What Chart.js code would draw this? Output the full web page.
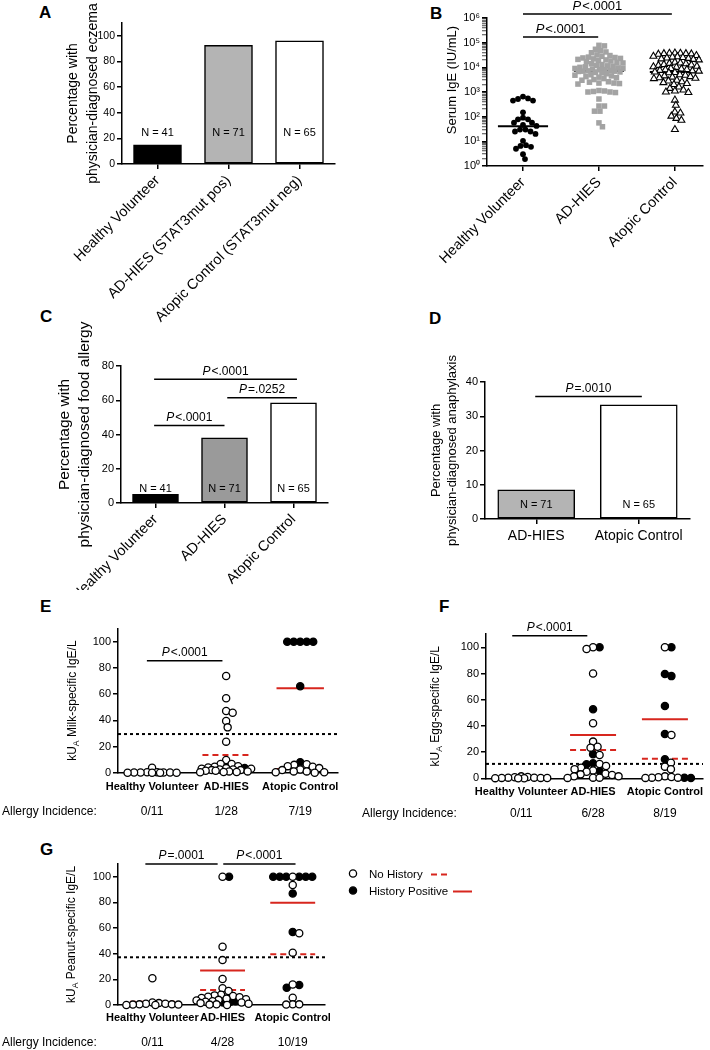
<!DOCTYPE html>
<html>
<head>
<meta charset="utf-8">
<script src="https://cdn.jsdelivr.net/npm/chart.js@4.4.1/dist/chart.umd.min.js"></script>
<style>
  html, body { margin: 0; padding: 0; background: #fff; }
  body { position: relative; width: 710px; height: 1050px; overflow: hidden; font-family: 'Liberation Sans', Arial, sans-serif; }
  canvas { position: absolute; }
  .panel-letter { position: absolute; font-weight: bold; font-size: 17px; line-height: 17px; color: #000; }
</style>
</head>
<body>
<div class="panel-letter" style="left:39px;top:4px">A</div>
<div class="panel-letter" style="left:430px;top:5px">B</div>
<div class="panel-letter" style="left:40px;top:308px">C</div>
<div class="panel-letter" style="left:429px;top:310px">D</div>
<div class="panel-letter" style="left:40px;top:598px">E</div>
<div class="panel-letter" style="left:439px;top:598px">F</div>
<div class="panel-letter" style="left:40px;top:841px">G</div>

<canvas id="chartA"></canvas>
<canvas id="chartB"></canvas>
<canvas id="chartC"></canvas>
<canvas id="chartD"></canvas>
<canvas id="chartE"></canvas>
<canvas id="chartF"></canvas>
<canvas id="chartG"></canvas>

<script>
// 글꼴 / 색상
const FONT = "'Liberation Sans', Arial, Helvetica, sans-serif";
const RED = '#d7261e';

// ---------- 데이터 ----------
// 그룹 이름
const groupsA = ['Healthy Volunteer', 'AD-HIES (STAT3mut pos)', 'Atopic Control (STAT3mut neg)'];
const groups3 = ['Healthy Volunteer', 'AD-HIES', 'Atopic Control'];
const groupsD = ['AD-HIES', 'Atopic Control'];

// A: 습진 비율
const eczemaPct = [15, 92.5, 96];
const nA = ['N = 41', 'N = 71', 'N = 65'];
const yTicksA = [0, 20, 40, 60, 80, 100];
const titleA = ['Percentage with', 'physician-diagnosed eczema'];

// B: 혈청 IgE
const igeHV = [550, 450, 450, 520, 650, 150, 78, 57, 46, 42, 57, 78, 91, 30, 25, 20, 25, 30, 7, 6, 5, 6.5, 10.5, 3, 1.9];
const igeAD = [74000, 78000, 47000, 39000, 54000, 42000,
  32000, 30000, 28000, 26000, 25000, 24000, 23000, 22000, 21000, 20000, 19000, 18000,
  17000, 16000, 15000, 14000, 13000, 12000, 11500, 11000, 10500, 10000,
  9500, 9000, 9000, 8500, 8000, 8000, 7500, 7200, 7000, 7000, 6800, 6500, 6200, 6000, 5500,
  5000, 4800, 4500, 4200, 4000, 3800, 3500, 3200, 3000,
  2600, 2500, 2300, 2300, 2200, 2100,
  1150, 1100, 1050, 1000, 1000, 950,
  520, 270, 270, 167, 167, 56, 39];
const igeAC = [38000, 37000, 37000, 36000, 36000, 35000, 34000,
  30000, 28000, 27000, 26000, 25000, 24000, 23000, 22000, 21000, 20000,
  16000, 15000, 14500, 14000, 13000, 12500, 12000, 11000, 10500, 10000,
  9000, 8500, 8200, 8000, 7500, 7200, 7000, 6500, 6200, 6000,
  5000, 4800, 4500, 4200, 4000, 3800, 3600, 3500,
  3000, 2800, 2600, 2400, 2200, 2000,
  1600, 1400, 1200, 1100, 1000, 950,
  470, 290, 155, 140, 105, 85, 72, 30];
const igeMeans = [41, 7200, 6500];
const yTicksB = [1, 10, 100, 1e3, 1e4, 1e5, 1e6];
const yTickLabelsB = ['10⁰', '10¹', '10²', '10³', '10⁴', '10⁵', '10⁶'];
const sigB = [
  { x1: 1, x2: 2.96, y: 1.45e6, label: '<.0001' },
  { x1: 1, x2: 1.99, y: 1.7e5, label: '<.0001' }
];

// C: 식품 알레르기 비율
const foodPct = [5, 38, 58.5];
const nC = ['N = 41', 'N = 71', 'N = 65'];
const yTicksC = [0, 20, 40, 60, 80];
const titleC = ['Percentage with', 'physician-diagnosed food allergy'];
const sigC = [
  { x1: 0.98, x2: 3.05, y: 72.2, label: '<.0001' },
  { x1: 2.04, x2: 3.05, y: 61.5, label: '=.0252' },
  { x1: 0.98, x2: 2.0, y: 45.2, label: '<.0001' }
];

// D: 아나필락시스 비율
const anaPct = [8.5, 33.3];
const nD = ['N = 71', 'N = 65'];
const yTicksD = [0, 10, 20, 30, 40];
const titleD = ['Percentage with', 'physician-diagnosed anaphylaxis'];
const sigD = [{ x1: 0.99, x2: 2.03, y: 35.8, label: '=.0010' }];

// E/F/G 공통
const yTicksPct = [0, 20, 40, 60, 80, 100];
const legendLabels = ['No History', 'History Positive'];

// E: 우유 특이 IgE
const milkNoHistHV = [3.8, 0.3, 0.2, 0.1, 0, 0, 0, 0, 0.1, 0.2, 0.3];
const milkNoHistAD = [73.8, 56.8, 47.1, 45.8, 39.5, 34.6, 23.7, 9.7, 6.6, 6.6, 5, 4.5, 4, 3.5, 3, 3, 2.5, 2.5, 2, 2, 1.5, 1.5, 1, 1, 0.5, 0.5, 0.3];
const milkNoHistAC = [6.5, 6, 5, 4.5, 3.5, 2.5, 2, 1, 1, 0.3, 0.3, 0];
const milkPosHV = [];
const milkPosAD = [3.5];
const milkPosAC = [100, 100, 100, 100, 100, 66, 8];
const milkNoHistMean = [0.8, 13.5, 2.8];
const milkPosMean = [null, 3.6, 64.4];
const milkCutoff = 29.5;
const milkIncidence = ['0/11', '1/28', '7/19'];
const sigE = [{ x1: 0.93, x2: 1.95, y: 85.5, label: '<.0001' }];

// F: 계란 특이 IgE
const eggNoHistHV = [1.5, 1, 0.8, 0.5, 0.5, 0.3, 0.3, 0.2, 0.1, 0, 0];
const eggNoHistAD = [100, 98.7, 80, 42, 28, 24.1, 23.4, 17.8, 10.9, 9.4, 8, 7, 6, 5, 3.5, 3, 2.5, 1.5, 1.5, 0.5, 0.5, 0.3];
const eggNoHistAC = [100, 33, 11.9, 8.9, 6.9, 1.5, 1, 0.8, 0.5, 0.5, 0.3];
const eggPosHV = [];
const eggPosAD = [100, 52.7, 18.3, 11.5, 10.7, 5.5];
const eggPosAC = [100, 79.6, 78, 55.2, 33.8, 14.5, 0.5, 0.3];
const eggNoHistMean = [0.5, 21.6, 15];
const eggPosMean = [null, 33, 45];
const eggCutoff = 11;
const eggIncidence = ['0/11', '6/28', '8/19'];
const sigF = [{ x1: 0.875, x2: 1.92, y: 108.8, label: '<.0001' }];

// G: 땅콩 특이 IgE
const peanutNoHistHV = [20.8, 2, 1.5, 1, 1, 0.5, 0.5, 0.3, 0.3, 0, 0];
const peanutNoHistAD = [100, 45.5, 35, 20.3, 13, 10.9, 8, 7.5, 7, 6.5, 6, 5.5, 5, 4.5, 4, 3.5, 3, 2.5, 2, 1.5, 1, 0.5, 0.3, 0];
const peanutNoHistAC = [100, 93.5, 55.9, 40.8, 16, 5.7, 0.5, 0.5, 0.3];
const peanutPosHV = [];
const peanutPosAD = [100, 3, 2.5, 2];
const peanutPosAC = [100, 100, 100, 100, 100, 100, 87, 57, 15.6, 13.5];
const peanutNoHistMean = [2.6, 11.7, 39.5];
const peanutPosMean = [null, 26.8, 79.7];
const peanutCutoff = 37.2;
const peanutIncidence = ['0/11', '4/28', '10/19'];
const sigG = [
  { x1: 0.9, x2: 1.93, y: 110, label: '=.0001' },
  { x1: 2.01, x2: 3.04, y: 110, label: '<.0001' }
];

Chart.defaults.font.family = FONT;
Chart.defaults.color = '#000';

// ---------- 헬퍼 ----------
function setupCanvas(id, r) {
  const c = document.getElementById(id);
  c.width = r.w;
  c.height = r.h;
  c.style.left = r.x + 'px';
  c.style.top = r.y + 'px';
  c.style.width = r.w + 'px';
  c.style.height = r.h + 'px';
  return c;
}

// 플롯 영역이 페이지 좌표에 맞도록 패딩 계산
function frame(rect, plot, scaleLeft) {
  return {
    padding: { left: scaleLeft - rect.x, top: plot.t - rect.y, right: rect.x + rect.w - plot.r, bottom: 0 },
    yw: plot.l - scaleLeft,
    xh: rect.y + rect.h - plot.b
  };
}

function yScale(f, o) {
  return {
    type: o.type || 'linear',
    min: o.min,
    max: o.max,
    afterFit: s => { s.width = f.yw; s.paddingTop = 0; s.paddingBottom = 0; },
    afterBuildTicks: o.buildTicks || (s => { s.ticks = o.ticks.map(v => ({ value: v })); }),
    border: { display: true, color: '#000', width: 1.5 },
    grid: Object.assign({ drawOnChartArea: false, drawTicks: true, tickLength: 5, color: '#000', lineWidth: 1.5 }, o.grid || {}),
    ticks: {
      autoSkip: false, color: '#000', padding: 2,
      font: { family: FONT, size: o.tickSize || 11 },
      callback: o.tickCallback || (v => v)
    },
    title: o.title ? {
      display: true, text: o.title, color: '#000',
      font: { family: FONT, size: o.titleSize, lineHeight: o.titleLH },
      padding: { top: o.titlePad, bottom: 0 }
    } : { display: false }
  };
}

function xScale(f, o) {
  const marks = o.tickMarks !== false;
  return {
    type: 'linear',
    min: o.min,
    max: o.max,
    offset: false,
    afterFit: s => { s.height = f.xh; s.paddingLeft = 0; s.paddingRight = 0; },
    afterBuildTicks: s => { s.ticks = o.labels.map((_, i) => ({ value: i + 1 })); },
    border: { display: true, color: '#000', width: 1.5 },
    grid: { display: marks, offset: false, drawOnChartArea: false, drawTicks: marks, tickLength: 5, color: '#000', lineWidth: 1.5 },
    ticks: {
      autoSkip: false, color: '#000',
      minRotation: o.rot || 0, maxRotation: o.rot || 0,
      padding: o.pad == null ? 3 : o.pad,
      font: { family: FONT, size: o.size, weight: o.weight || 'normal' },
      callback: (v, i) => o.labels[i]
    }
  };
}

function baseOptions(f, scales) {
  return {
    responsive: false,
    animation: false,
    events: [],
    layout: { padding: f.padding },
    plugins: { legend: { display: false }, tooltip: { enabled: false } },
    scales
  };
}

function sigLines(sig) {
  return (sig || []).map(s => ({
    type: 'line', showLine: true,
    data: [{ x: s.x1, y: s.y }, { x: s.x2, y: s.y }],
    borderColor: '#000', borderWidth: 1.5, pointRadius: 0, clip: false, fill: false
  }));
}

function meanLine(g, m, color, dash, hw) {
  return {
    type: 'line', showLine: true,
    data: [{ x: g + 1 - hw, y: m }, { x: g + 1 + hw, y: m }],
    borderColor: color, borderWidth: 2, borderDash: dash, pointRadius: 0, clip: false, fill: false
  };
}

// 이탤릭 P + 나머지 텍스트
function drawP(ctx, x, y, rest, size) {
  ctx.save();
  ctx.fillStyle = '#000';
  ctx.textBaseline = 'middle';
  ctx.textAlign = 'left';
  ctx.font = `italic ${size}px ${FONT}`;
  const wP = ctx.measureText('P').width + 1;
  ctx.font = `${size}px ${FONT}`;
  const wR = ctx.measureText(rest).width;
  const x0 = x - (wP + wR) / 2;
  ctx.font = `italic ${size}px ${FONT}`;
  ctx.fillText('P', x0, y);
  ctx.font = `${size}px ${FONT}`;
  ctx.fillText(rest, x0 + wP, y);
  ctx.restore();
}

// 아래첨자가 있는 세로 제목
function drawRotated(ctx, cx, cy, parts, size) {
  ctx.save();
  ctx.translate(cx, cy);
  ctx.rotate(-Math.PI / 2);
  ctx.fillStyle = '#000';
  ctx.textBaseline = 'middle';
  ctx.textAlign = 'left';
  const fontFor = p => `${p.sub ? size * 0.72 : size}px ${FONT}`;
  let total = 0;
  parts.forEach(p => { ctx.font = fontFor(p); total += ctx.measureText(p.t).width; });
  let x = -total / 2;
  parts.forEach(p => {
    ctx.font = fontFor(p);
    ctx.fillText(p.t, x, p.sub ? size * 0.32 : 0);
    x += ctx.measureText(p.t).width;
  });
  ctx.restore();
}

function annotations(c) {
  return {
    id: 'annotations',
    afterDatasetsDraw(chart) {
      const ctx = chart.ctx, xs = chart.scales.x, ys = chart.scales.y;
      (c.sig || []).forEach(s => {
        const px = (xs.getPixelForValue(s.x1) + xs.getPixelForValue(s.x2)) / 2;
        drawP(ctx, px, ys.getPixelForValue(s.y) - 8, s.label, c.pSize || 12);
      });
      ctx.save();
      ctx.fillStyle = '#000';
      ctx.textBaseline = 'middle';
      if (c.nLabels) {
        ctx.font = `${c.nSize || 11}px ${FONT}`;
        ctx.textAlign = 'center';
        c.nLabels.forEach((t, i) => ctx.fillText(t, xs.getPixelForValue(i + 1), ys.getPixelForValue(c.nY)));
      }
      if (c.richTitle) {
        const ty = c.richTitle.y != null ? c.richTitle.y : (chart.chartArea.top + chart.chartArea.bottom) / 2;
        drawRotated(ctx, c.richTitle.x, ty, c.richTitle.parts, c.richTitle.size);
      }
      if (c.incidence) {
        ctx.font = `12px ${FONT}`;
        ctx.textAlign = 'left';
        ctx.fillText('Allergy Incidence:', c.incidence.x, c.incidence.y);
        ctx.textAlign = 'center';
        c.incidence.values.forEach((t, i) => ctx.fillText(t, xs.getPixelForValue(i + 1), c.incidence.y));
      }
      if (c.legend) c.legend(ctx);
      ctx.restore();
    }
  };
}

// 겹치지 않도록 점 배치 (비스웜)
function swarm(chart, groups, diam, maxW) {
  const xs = chart.scales.x, ys = chart.scales.y;
  const unit = xs.getPixelForValue(2) - xs.getPixelForValue(1);
  const out = [];
  groups.forEach((pts, g) => {
    const placed = [];
    const order = pts.map((p, i) => i).sort((a, b) => pts[b].v - pts[a].v);
    order.forEach(i => {
      const py = ys.getPixelForValue(pts[i].v);
      let best = 0, bestD = -1, found = false;
      for (let s = 0; s <= maxW && !found; s += 0.5) {
        const cands = s === 0 ? [0] : [s, -s];
        for (const dx of cands) {
          let dmin = Infinity;
          placed.forEach(q => { dmin = Math.min(dmin, Math.hypot(q.dx - dx, q.py - py)); });
          if (dmin >= diam) { best = dx; found = true; break; }
          if (dmin > bestD) { bestD = dmin; best = dx; }
        }
      }
      placed.push({ dx: best, py });
      out.push({ set: pts[i].set, x: g + 1 + best / unit, y: pts[i].v });
    });
  });
  return out;
}

// ---------- 막대 패널 ----------
function barPanel(id, rect, plot, scaleLeft, c) {
  const f = frame(rect, plot, scaleLeft);
  const datasets = [{
    type: 'bar',
    data: c.values.map((v, i) => ({ x: i + 1, y: v })),
    backgroundColor: c.colors,
    borderColor: '#000',
    borderWidth: 1.5,
    borderSkipped: false,
    barThickness: c.barW,
    clip: false
  }].concat(sigLines(c.sig));
  return new Chart(setupCanvas(id, rect), {
    type: 'bar',
    data: { datasets },
    options: baseOptions(f, {
      x: xScale(f, { min: 0.5, max: c.xMax || 3.5, labels: c.labels, rot: c.xRot, size: c.xSize, pad: c.xPad }),
      y: yScale(f, { min: 0, max: c.yMax, ticks: c.yTicks, tickSize: c.tickSize, title: c.title, titleSize: c.titleSize, titleLH: c.titleLH, titlePad: c.titlePad })
    }),
    plugins: [annotations({ sig: c.sig, nLabels: c.nLabels, nY: c.nY, pSize: 12 })]
  });
}

// ---------- 점 패널 ----------
function dotPanel(id, rect, plot, scaleLeft, c) {
  const f = frame(rect, plot, scaleLeft);
  const pointSets = c.sets.map(ps => ({
    type: 'scatter', data: [],
    pointStyle: ps.style, pointRadius: ps.r,
    pointBackgroundColor: ps.fill, pointBorderColor: ps.stroke, pointBorderWidth: ps.bw,
    clip: false
  }));
  const means = [];
  (c.means || []).forEach(m => m.values.forEach((v, g) => { if (v != null) means.push(meanLine(g, v, m.color, m.dash, c.hw)); }));
  const cutoff = c.threshold == null ? [] : [{
    type: 'line', showLine: true,
    data: [{ x: c.xMin, y: c.threshold }, { x: c.xMax, y: c.threshold }],
    borderColor: '#000', borderWidth: 2, borderDash: [3, 3], pointRadius: 0, clip: false
  }];
  const chart = new Chart(setupCanvas(id, rect), {
    type: 'scatter',
    data: { datasets: pointSets.concat(means, cutoff, sigLines(c.sig)) },
    options: baseOptions(f, {
      x: xScale(f, { min: c.xMin, max: c.xMax, labels: c.labels, rot: c.xRot, size: c.xSize, weight: c.xWeight, tickMarks: c.xTickMarks, pad: c.xPad }),
      y: yScale(f, {
        type: c.yType, min: c.yMin, max: c.yMax, ticks: c.yTicks, buildTicks: c.yBuildTicks,
        tickCallback: c.yTickCallback, grid: c.yGrid, tickSize: 11
      })
    }),
    plugins: [annotations({ sig: c.sig, pSize: c.pSize, richTitle: c.richTitle, incidence: c.incidence, legend: c.legend })]
  });
  swarm(chart, c.groups, c.diam, c.maxW).forEach(p => chart.data.datasets[p.set].data.push({ x: p.x, y: p.y }));
  chart.update('none');
  return chart;
}

const OPEN_FILLED = [
  { style: 'circle', r: 3.6, fill: '#fff', stroke: '#000', bw: 1.3 },
  { style: 'circle', r: 3.6, fill: '#000', stroke: '#000', bw: 1.3 }
];

function historyGroups(noHist, pos) {
  return noHist.map((arr, g) => arr.map(v => ({ v, set: 0 })).concat(pos[g].map(v => ({ v, set: 1 }))));
}

// ---------- 패널 생성 ----------
barPanel('chartA', { x: 0, y: 0, w: 350, h: 340 }, { l: 122, r: 335, t: 23, b: 164 }, 55, {
  labels: groupsA, values: eczemaPct, colors: ['#000', '#b4b4b4', '#fff'], barW: 48,
  yMax: 110, yTicks: yTicksA, tickSize: 10.5,
  title: titleA, titleSize: 14, titleLH: 1.43, titlePad: 8.5,
  xRot: 45, xSize: 14.5, nLabels: nA, nY: 24
});

const isMajorB = v => yTicksB.indexOf(v) >= 0;
dotPanel('chartB', { x: 350, y: 0, w: 360, h: 290 }, { l: 487, r: 703, t: 18, b: 166 }, 443, {
  xMin: 0.526, xMax: 3.37, labels: groups3, xRot: 45, xSize: 14.5,
  yType: 'logarithmic', yMin: 1, yMax: 1e6,
  yBuildTicks: s => {
    const t = [];
    yTicksB.forEach((p, k) => {
      t.push({ value: p });
      if (k < yTicksB.length - 1) for (let m = 2; m <= 9; m++) t.push({ value: m * p });
    });
    s.ticks = t;
  },
  yTickCallback: v => (isMajorB(v) ? yTickLabelsB[yTicksB.indexOf(v)] : ''),
  yGrid: {
    tickColor: ctx => (ctx.tick && isMajorB(ctx.tick.value) ? '#000' : '#444'),
    tickWidth: ctx => (ctx.tick && isMajorB(ctx.tick.value) ? 1.5 : 1)
  },
  richTitle: { x: 102, y: 80, size: 13, parts: [{ t: 'Serum IgE (IU/mL)' }] },
  sets: [
    { style: 'circle', r: 2.9, fill: '#000', stroke: '#000', bw: 0 },
    { style: 'rect', r: 3.9, fill: '#a3a3a3', stroke: '#a3a3a3', bw: 0 },
    { style: 'triangle', r: 4, fill: '#fff', stroke: '#000', bw: 1.1 }
  ],
  groups: [igeHV.map(v => ({ v, set: 0 })), igeAD.map(v => ({ v, set: 1 })), igeAC.map(v => ({ v, set: 2 }))],
  diam: 5.2, maxW: 24,
  means: [{ values: igeMeans, color: '#000', dash: [] }], hw: 0.33,
  sig: sigB, pSize: 13
});

barPanel('chartC', { x: 0, y: 290, w: 350, h: 300 }, { l: 121, r: 328, t: 366, b: 503 }, 47, {
  labels: groups3, values: foodPct, colors: ['#000', '#9a9a9a', '#fff'], barW: 46,
  yMax: 80, yTicks: yTicksC,
  title: titleC, titleSize: 15.5, titleLH: 1.29, titlePad: 8,
  xRot: 45, xSize: 14.5, nLabels: nC, nY: 8.3, sig: sigC
});

barPanel('chartD', { x: 350, y: 290, w: 360, h: 290 }, { l: 485, r: 690, t: 382, b: 519 }, 420, {
  labels: groupsD, values: anaPct, colors: ['#b4b4b4', '#fff'], barW: 77, xMax: 2.5,
  yMax: 40, yTicks: yTicksD,
  title: titleD, titleSize: 13, titleLH: 1.27, titlePad: 7.75,
  xRot: 0, xSize: 14, xPad: 4, nLabels: nD, nY: 4.1, sig: sigD
});

dotPanel('chartE', { x: 0, y: 585, w: 355, h: 240 }, { l: 118, r: 338, t: 628.6, b: 772.7 }, 60, {
  xMin: 0.54, xMax: 3.51, labels: groups3, xSize: 11, xWeight: 'bold', xTickMarks: false, xPad: 7.5,
  yMin: 0, yMax: 110, yTicks: yTicksPct,
  richTitle: { x: 72.5, size: 12, parts: [{ t: 'kU' }, { t: 'A', sub: true }, { t: ' Milk-specific IgE/L' }] },
  sets: OPEN_FILLED,
  groups: historyGroups([milkNoHistHV, milkNoHistAD, milkNoHistAC], [milkPosHV, milkPosAD, milkPosAC]),
  diam: 6.5, maxW: 26,
  means: [{ values: milkNoHistMean, color: RED, dash: [6, 4] }, { values: milkPosMean, color: RED, dash: [] }], hw: 0.32,
  threshold: milkCutoff, sig: sigE, pSize: 12,
  incidence: { x: 2, y: 227, values: milkIncidence }
});

dotPanel('chartF', { x: 355, y: 585, w: 355, h: 240 }, { l: 486, r: 703, t: 634.2, b: 778.3 }, 425, {
  xMin: 0.51, xMax: 3.53, labels: groups3, xSize: 11, xWeight: 'bold', xTickMarks: false, xPad: 7.5,
  yMin: 0, yMax: 110, yTicks: yTicksPct,
  richTitle: { x: 81, size: 12, parts: [{ t: 'kU' }, { t: 'A', sub: true }, { t: ' Egg-specific IgE/L' }] },
  sets: OPEN_FILLED,
  groups: historyGroups([eggNoHistHV, eggNoHistAD, eggNoHistAC], [eggPosHV, eggPosAD, eggPosAC]),
  diam: 6.5, maxW: 26,
  means: [{ values: eggNoHistMean, color: RED, dash: [6, 4] }, { values: eggPosMean, color: RED, dash: [] }], hw: 0.32,
  threshold: eggCutoff, sig: sigF, pSize: 12,
  incidence: { x: 7, y: 229, values: eggIncidence }
});

dotPanel('chartG', { x: 0, y: 825, w: 710, h: 225 }, { l: 118, r: 325, t: 863.9, b: 1005 }, 60, {
  xMin: 0.51, xMax: 3.46, labels: groups3, xSize: 11, xWeight: 'bold', xTickMarks: false, xPad: 6.5,
  yMin: 0, yMax: 110, yTicks: yTicksPct,
  richTitle: { x: 72, size: 12, parts: [{ t: 'kU' }, { t: 'A', sub: true }, { t: ' Peanut-specific IgE/L' }] },
  sets: OPEN_FILLED,
  groups: historyGroups([peanutNoHistHV, peanutNoHistAD, peanutNoHistAC], [peanutPosHV, peanutPosAD, peanutPosAC]),
  diam: 6.5, maxW: 26,
  means: [{ values: peanutNoHistMean, color: RED, dash: [6, 4] }, { values: peanutPosMean, color: RED, dash: [] }], hw: 0.32,
  threshold: peanutCutoff, sig: sigG, pSize: 12,
  incidence: { x: 2, y: 218, values: peanutIncidence },
  legend: ctx => {
    // 범례: 원 표시, 텍스트, 빨간 선
    const rows = [
      { y: 48.5, filled: false, dash: [6, 4], x1: 431, x2: 451 },
      { y: 65.5, filled: true, dash: [], x1: 453, x2: 472 }
    ];
    rows.forEach((r, i) => {
      ctx.beginPath();
      ctx.arc(353, r.y, 3.6, 0, Math.PI * 2);
      ctx.fillStyle = r.filled ? '#000' : '#fff';
      ctx.fill();
      ctx.lineWidth = 1.3;
      ctx.strokeStyle = '#000';
      ctx.stroke();
      ctx.fillStyle = '#000';
      ctx.font = `11.5px ${FONT}`;
      ctx.textAlign = 'left';
      ctx.textBaseline = 'middle';
      ctx.fillText(legendLabels[i], 369, r.y + 1);
      ctx.beginPath();
      ctx.setLineDash(r.dash);
      ctx.moveTo(r.x1, r.y + 1);
      ctx.lineTo(r.x2, r.y + 1);
      ctx.strokeStyle = RED;
      ctx.lineWidth = 2;
      ctx.stroke();
      ctx.setLineDash([]);
    });
  }
});
</script>
</body>
</html>
